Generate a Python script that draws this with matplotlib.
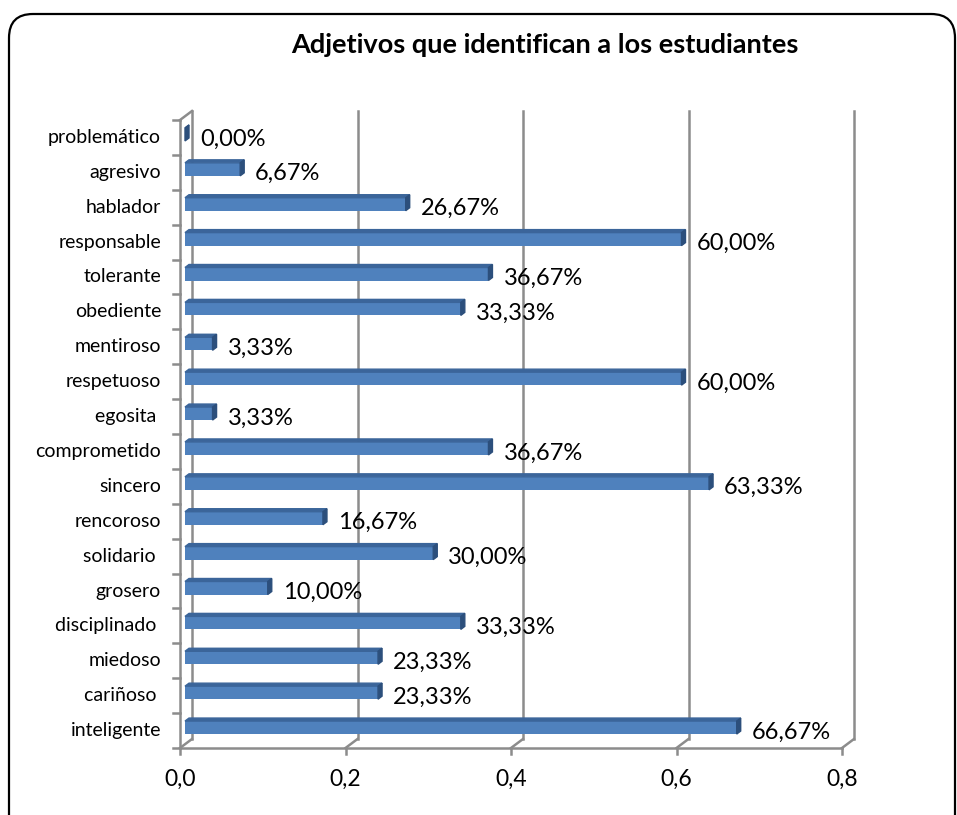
import numpy as np
import matplotlib
matplotlib.use("Agg")
import matplotlib.pyplot as plt
from matplotlib.patches import FancyBboxPatch, Polygon

plt.rcParams['font.family'] = ['Lato', 'DejaVu Sans']

# Data (bottom to top, as drawn)
categories = ['inteligente', 'cariñoso ', 'miedoso', 'disciplinado ', 'grosero',
              'solidario ', 'rencoroso', 'sincero', 'comprometido', 'egosita ',
              'respetuoso', 'mentiroso', 'obediente', 'tolerante', 'responsable',
              'hablador', 'agresivo', 'problemático']
percent = [66.67, 23.33, 23.33, 33.33, 10.00, 30.00, 16.67, 63.33, 36.67, 3.33,
           60.00, 3.33, 33.33, 36.67, 60.00, 26.67, 6.67, 0.00]
xticks = [0.0, 0.2, 0.4, 0.6, 0.8]
title = 'Adjetivos que identifican a los estudiantes'

W, H = 957, 815
fig = plt.figure(figsize=(W / 100, H / 100), dpi=100)

# rounded chart border
border = FancyBboxPatch((9 / W, -30 / H), (955 - 9) / W, (H - 14 + 30) / H,
                        boxstyle='round,pad=0,rounding_size=0.025',
                        transform=fig.transFigure, fill=False,
                        ec='black', lw=1.6, mutation_aspect=W / H)
fig.patches.append(border)

fig.text(545 / W, 1 - 45 / H, title, ha='center', va='center',
         fontsize=19.5, fontweight='bold')

# front plane of the 3D plot area
left, right, top, bottom = 180, 842, 120, 748
ax = fig.add_axes([left / W, 1 - bottom / H, (right - left) / W, (bottom - top) / H])
ax.set_xlim(0, 0.8)
ax.set_ylim(-0.5, len(categories) - 0.5)
ax.axis('off')

px = 0.8 / (right - left)
py = len(categories) / (bottom - top)
depth_x, depth_y = 12 * px, 9 * py
grid_c = '#8c8c8c'
y_lo, y_hi = -0.5, len(categories) - 0.5

# back wall gridlines + floor diagonals
for t in xticks:
    ax.plot([t + depth_x, t + depth_x], [y_lo + depth_y, y_hi + depth_y],
            color=grid_c, lw=1.8, clip_on=False, zorder=1)
    ax.plot([t, t + depth_x], [y_lo, y_lo + depth_y], color=grid_c, lw=1.8,
            clip_on=False, zorder=1)
    ax.plot([t, t], [y_lo, y_lo - 6 * py], color=grid_c, lw=1.8, clip_on=False)
    ax.text(t, y_lo - 31 * py, f'{t:.1f}'.replace('.', ','), ha='center',
            va='center', fontsize=16.5)

# front axis lines
ax.plot([0, 0.8], [y_lo, y_lo], color=grid_c, lw=1.8, clip_on=False)
ax.plot([0, 0], [y_lo, y_hi], color=grid_c, lw=1.8, clip_on=False)
ax.plot([0, depth_x], [y_hi, y_hi + depth_y], color=grid_c, lw=1.8, clip_on=False)
for k in range(len(categories) + 1):
    ax.plot([-7 * px, 0], [k - 0.5, k - 0.5], color=grid_c, lw=1.8, clip_on=False)

# bars
vals = np.array(percent) / 100
ypos = np.arange(len(categories)) + 3 * py
bar_h = 13 * py
bx = 5 * px
dx, dy = 4 * px, 3 * py
ax.barh(ypos, vals, left=bx, height=bar_h, color='#4f81bd', zorder=3)
for y, v in zip(ypos, vals):
    yt, yb = y + bar_h / 2, y - bar_h / 2
    x1 = bx + v
    ax.add_patch(Polygon([(bx, yt), (x1, yt), (x1 + dx, yt + dy), (bx + dx, yt + dy)],
                         closed=True, color='#3b659a', zorder=3, clip_on=False))
    ax.add_patch(Polygon([(x1, yb), (x1, yt), (x1 + dx, yt + dy), (x1 + dx, yb + dy)],
                         closed=True, color='#2c4f7c', zorder=3, clip_on=False))
    ax.text(x1 + dx + 11 * px, y - 4.5 * py, f'{v * 100:.2f}%'.replace('.', ','),
            ha='left', va='center', fontsize=17, zorder=4)

for k, name in enumerate(categories):
    ax.text(-19 * px, k, name, ha='right', va='center', fontsize=14)

fig.savefig('out.png', dpi=100)
